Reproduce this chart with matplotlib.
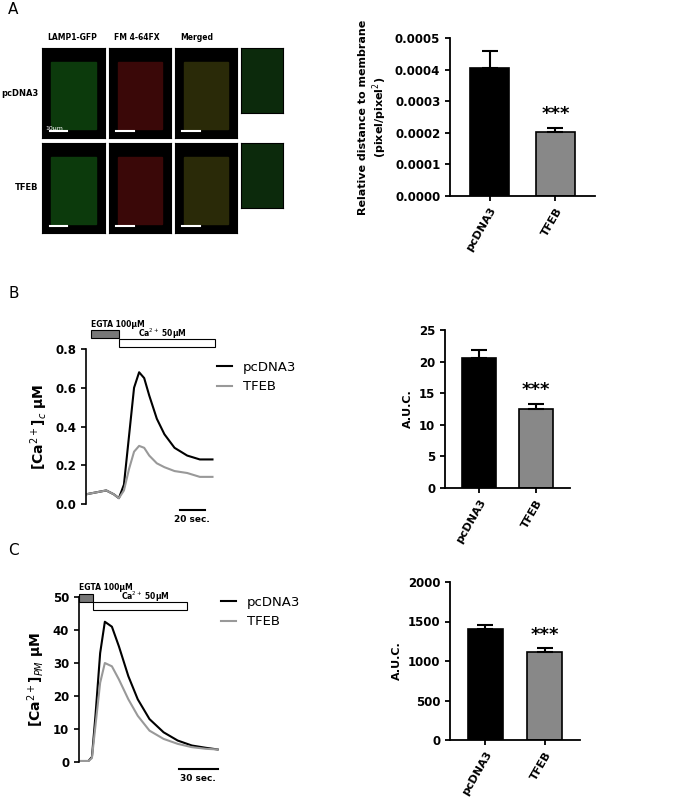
import numpy as np
import matplotlib.pyplot as plt
from matplotlib.patches import Rectangle

W, H = 685, 800

groups = ["pcDNA3", "TFEB"]
bar_colors = ["black", "#888888"]
a_vals = [0.000405, 0.000203]
a_err = [0.000055, 0.000012]
b_vals = [20.5, 12.5]
b_err = [1.3, 0.8]
c_vals = [1405, 1115]
c_err = [55, 45]

# Ca traces, panel B (time in s)
tb = [0, 8, 16, 22, 26, 30, 34, 38, 42, 46, 50, 56, 62, 70, 80, 90, 100]
b_pc = [0.05, 0.06, 0.07, 0.05, 0.03, 0.10, 0.35, 0.60, 0.68, 0.65, 0.56, 0.44, 0.36, 0.29, 0.25, 0.23, 0.23]
b_tf = [0.05, 0.06, 0.07, 0.05, 0.03, 0.07, 0.18, 0.27, 0.30, 0.29, 0.25, 0.21, 0.19, 0.17, 0.16, 0.14, 0.14]
# panel C (time in s)
tc = [0, 8, 11, 14, 18, 22, 28, 34, 42, 50, 60, 72, 84, 96, 108, 118]
c_pc = [0.3, 0.3, 1.5, 14, 33, 42.5, 41, 35, 26, 19, 13, 9, 6.5, 5, 4.3, 3.8]
c_tf = [0.3, 0.3, 1.2, 11, 24, 30, 29, 25, 19, 14, 9.5, 7, 5.5, 4.5, 4.0, 3.8]

fig = plt.figure(figsize=(W / 100, H / 100), dpi=100)
plt.rcParams["font.family"] = "DejaVu Sans"


def ax_px(x0, y0, x1, y1):
    return fig.add_axes([x0 / W, 1 - y1 / H, (x1 - x0) / W, (y1 - y0) / H])


def bar_panel(rect, vals, errs, ylim, ticks, ylabel, fmt):
    ax = ax_px(*rect)
    ax.bar([0, 1], vals, width=0.6, color=bar_colors, edgecolor="black", linewidth=1.2)
    ax.errorbar([0, 1], vals, yerr=[[0, 0], errs], fmt="none", ecolor="black",
                capsize=6, elinewidth=1.5, capthick=1.5)
    ax.set_xlim(-0.6, 1.6)
    ax.set_ylim(*ylim)
    ax.set_yticks(ticks)
    ax.set_yticklabels([fmt.format(t) for t in ticks], fontsize=8.5, fontweight="bold")
    ax.set_xticks([0, 1])
    ax.set_xticklabels(groups, rotation=60, ha="right", rotation_mode="anchor",
                       fontsize=8, fontweight="bold")
    ax.spines[["top", "right"]].set_visible(False)
    for s in ("left", "bottom"):
        ax.spines[s].set_linewidth(1.3)
    ax.tick_params(width=1.3)
    ax.set_ylabel(ylabel, fontsize=8, fontweight="bold")
    ax.text(1, vals[1] + errs[1] + (ylim[1] - ylim[0]) * 0.03, "***",
            ha="center", va="bottom", fontsize=13, fontweight="bold")
    return ax


# Panel A: microscopy placeholders
fig.text(8 / W, 1 - 14 / H, "A", fontsize=11)
cols = [(42, 105), (109, 171), (175, 237)]
rows = [(48, 138), (143, 233)]
for (x0, x1), lab in zip(cols, ["LAMP1-GFP", "FM 4-64FX", "Merged"]):
    fig.text(x0 / W + 0.008, 1 - 40 / H, lab, fontsize=5.5, fontweight="bold")
cell_colors = ["#0c3a0c", "#3a0808", "#2a2a08"]
for (y0, y1), lab in zip(rows, ["pcDNA3", "TFEB"]):
    fig.text(38 / W, 1 - (y0 + y1) / 2 / H, lab, fontsize=6, fontweight="bold",
             ha="right", va="center")
    for (x0, x1), cc in zip(cols, cell_colors):
        a = ax_px(x0, y0, x1, y1)
        a.set_facecolor("black")
        a.add_patch(Rectangle((0.15, 0.1), 0.7, 0.75, color=cc, transform=a.transAxes))
        a.plot([0.12, 0.4], [0.08, 0.08], color="white", lw=1.5, transform=a.transAxes)
        a.set_xticks([]); a.set_yticks([])
    a = ax_px(241, y0, 283, y0 + 65)
    a.set_facecolor("#0c2a0c")
    a.set_xticks([]); a.set_yticks([])
fig.text(45 / W, 1 - 130 / H, "10μm", fontsize=4.5, color="white")

bar_panel((450, 38, 595, 196), a_vals, a_err, (0, 0.0005),
          [0, 0.0001, 0.0002, 0.0003, 0.0004, 0.0005],
          "Relative distance to membrane\n(pixel/pixel$^2$)", "{:.4f}")


def trace_panel(rect, t, pc, tf, ylim, ticks, ylabel, egta, ca, sb, sblab, legy, cax):
    ax = ax_px(*rect)
    ax.plot(t, pc, color="black", lw=1.5, label="pcDNA3")
    ax.plot(t, tf, color="#999999", lw=1.5, label="TFEB")
    ax.set_ylim(*ylim)
    ax.set_xlim(t[0], t[-1] + 2)
    ax.set_yticks(ticks)
    ax.tick_params(labelsize=8.5, width=1.2)
    for lb in ax.get_yticklabels():
        lb.set_fontweight("bold")
    ax.set_xticks([])
    ax.spines[["top", "right", "bottom"]].set_visible(False)
    ax.spines["left"].set_linewidth(1.2)
    ax.set_ylabel(ylabel, fontsize=10, fontweight="bold")
    r = ylim[1] - ylim[0]
    ax.add_patch(Rectangle((egta[0], egta[2] * r), egta[1] - egta[0], 0.05 * r,
                           facecolor="#777777", edgecolor="black", lw=0.8, clip_on=False))
    ax.add_patch(Rectangle((ca[0], ca[2] * r), ca[1] - ca[0], 0.05 * r,
                           facecolor="white", edgecolor="black", lw=0.8, clip_on=False))
    ax.text(egta[0], (egta[2] + 0.07) * r, "EGTA 100μM", fontsize=5.5, fontweight="bold")
    ax.text(ca[0] + cax * (ca[1] - ca[0]), (ca[2] + 0.06) * r, "Ca$^{2+}$ 50μM",
            fontsize=5.5, fontweight="bold")
    ax.plot(sb, [-0.04 * r] * 2, color="black", lw=1.5, clip_on=False)
    ax.text(np.mean(sb), -0.07 * r, sblab, ha="center", va="top", fontsize=6.5,
            fontweight="bold")
    ax.legend(loc="upper left", bbox_to_anchor=(0.92, legy), frameon=False,
              fontsize=9.5, handlelength=1.2)
    return ax


fig.text(8 / W, 1 - 298 / H, "B", fontsize=11)
trace_panel((86, 349, 215, 504), tb, b_pc, b_tf, (0, 0.8), [0, 0.2, 0.4, 0.6, 0.8],
            "[Ca$^{2+}$]$_c$ μM", (4, 26, 1.07), (26, 102, 1.015), [74, 94], "20 sec.",
            1.0, 0.2)
bar_panel((445, 330, 570, 488), b_vals, b_err, (0, 25), [0, 5, 10, 15, 20, 25],
          "A.U.C.", "{:g}")

fig.text(8 / W, 1 - 555 / H, "C", fontsize=11)
trace_panel((79, 597, 220, 762), tc, c_pc, c_tf, (0, 50), [0, 10, 20, 30, 40, 50],
            "[Ca$^{2+}$]$_{PM}$ μM", (0, 12, 0.97), (12, 92, 0.92), [85, 118], "30 sec.",
            1.08, 0.3)
bar_panel((450, 582, 580, 740), c_vals, c_err, (0, 2000), [0, 500, 1000, 1500, 2000],
          "A.U.C.", "{:g}")

fig.savefig("out.png", dpi=100)
